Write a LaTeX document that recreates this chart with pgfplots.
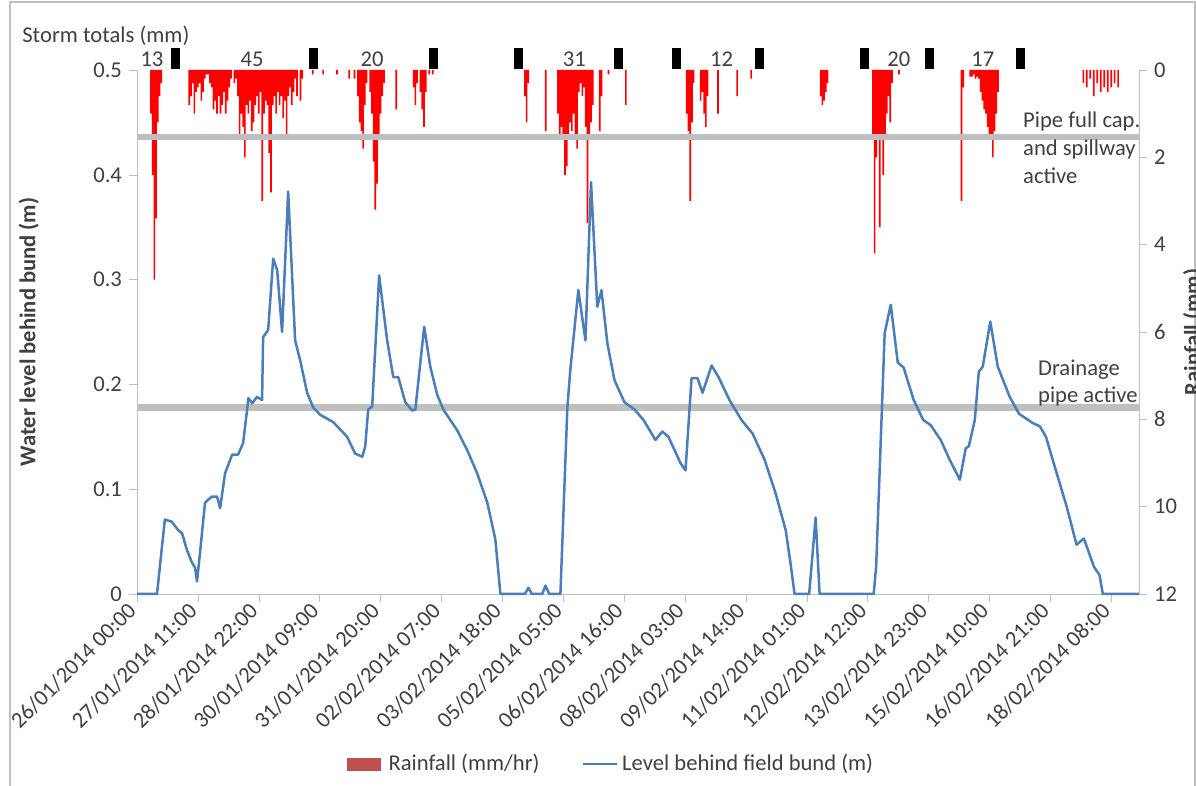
\documentclass[border=0pt]{standalone}
\usepackage{pgfplots}
\pgfplotsset{compat=1.18}
\usepackage{fontspec}
\setmainfont{Carlito}
\definecolor{txt}{HTML}{404040}
\definecolor{axgray}{HTML}{BFBFBF}
\definecolor{lvl}{HTML}{4A7EBB}
\definecolor{rainleg}{HTML}{C0504D}
\definecolor{thr}{HTML}{BFBFBF}
\newcommand\fsz{\fontsize{11.3}{13.6}\selectfont}

\pgfplotstableread{
h r
8 1.0
9 2.4
10 4.8
11 3.4
12 1.2
13 0.6
14 0.3
30 0.8
31 0.6
32 0.3
33 1.0
34 0.5
35 0.4
36 0.3
37 0.7
38 0.5
39 0.2
40 0.1
41 0.1
42 0.3
43 0.4
44 0.9
45 0.7
46 1.0
47 0.6
48 1.0
49 0.8
50 0.5
51 1.0
52 0.7
53 0.4
54 0.2
56 0.3
57 0.2
58 0.6
59 1.5
60 1.0
61 1.3
62 2.0
63 0.8
64 1.0
65 0.7
66 1.4
67 1.2
68 0.8
69 0.6
70 1.0
71 0.5
72 3.0
73 1.0
74 0.7
75 0.8
76 1.9
77 2.8
78 0.8
79 0.6
80 1.0
81 0.5
82 0.8
83 0.6
84 1.1
85 0.7
86 1.5
87 0.6
88 0.4
89 0.8
90 0.5
91 0.2
92 0.6
94 0.7
95 0.2
101 0.1
107 0.1
115 0.1
122 0.2
125 0.2
127 0.6
128 1.2
129 1.4
130 1.8
131 0.8
132 0.3
134 0.5
135 1.0
136 2.1
137 3.2
138 2.6
139 1.5
140 1.0
141 0.6
142 0.3
149 0.9
159 0.4
160 0.8
161 0.3
163 0.5
164 0.9
165 1.3
166 0.5
168 0.1
170 0.1
223 0.6
224 1.2
225 0.3
235 1.4
242 1.0
243 1.5
244 1.3
245 1.5
246 2.4
247 2.2
248 1.5
249 1.2
250 1.4
251 1.0
252 1.5
253 1.8
254 0.5
255 0.3
256 0.6
257 0.4
258 1.3
259 3.5
260 1.5
261 1.2
262 0.8
266 1.4
267 0.6
271 0.1
281 0.8
316 1.0
317 1.4
318 3.0
319 1.2
320 0.3
324 0.7
325 0.5
326 1.0
327 1.3
328 0.6
334 1.0
345 0.6
353 0.2
393 0.6
394 0.8
395 0.7
396 0.5
397 0.3
423 1.5
424 4.2
425 2.0
426 1.5
427 3.6
428 1.5
429 2.4
430 1.5
431 1.0
432 0.6
433 1.2
434 0.3
438 0.1
474 3.0
475 0.4
479 0.15
480 0.15
481 0.1
482 0.2
483 0.15
484 0.2
485 0.5
486 0.7
487 0.9
488 1.0
489 1.3
490 1.5
491 1.6
492 2.0
493 1.4
494 1.0
495 0.5
544 0.3
546 0.4
548 0.2
550 0.6
552 0.3
554 0.5
556 0.4
558 0.5
560 0.4
562 0.3
564 0.4
}\rain

\pgfplotstableread{
h v
0 0
11.5 0
16 0.071
20 0.069
23.6 0.061
25.9 0.058
28.7 0.042
31.6 0.030
33.4 0.025
34.5 0.012
36.2 0.039
39.1 0.087
40.9 0.090
43.2 0.093
46 0.093
47.8 0.082
50.6 0.115
54.7 0.133
58.1 0.133
61 0.144
63.3 0.176
64 0.187
66.2 0.182
69 0.188
71.9 0.185
72.5 0.245
75.4 0.252
78.3 0.320
80.6 0.309
83.4 0.250
86.9 0.384
90.9 0.242
93.8 0.223
97.8 0.192
101.3 0.178
105.3 0.171
112.8 0.164
120.8 0.150
125.4 0.134
129.5 0.131
131.2 0.141
132.9 0.176
135.2 0.179
139.2 0.304
143.8 0.242
147.3 0.207
150.2 0.207
154.2 0.183
158.2 0.175
160 0.176
165.1 0.255
168.6 0.217
172.6 0.190
176.1 0.176
184.1 0.156
189.9 0.137
195.6 0.115
201.4 0.087
206 0.052
208.9 0
223 0
225 0.006
227 0
233 0
234.8 0.008
237 0
243.4 0
247.4 0.178
249.1 0.214
253.7 0.290
257.8 0.242
261 0.393
264.6 0.274
267 0.290
270.4 0.239
274.5 0.204
280.2 0.183
286 0.176
291.2 0.166
298 0.147
302 0.155
305.5 0.150
312.4 0.125
315.3 0.118
318.8 0.206
322.2 0.206
325.1 0.192
330.3 0.218
334.3 0.207
340.6 0.185
347.5 0.166
353.9 0.153
360.8 0.128
367.1 0.096
372.9 0.061
375.7 0.029
378 0
386.4 0
390.1 0.073
392.4 0
423.5 0
424.9 0.026
429.8 0.249
433.3 0.276
437.3 0.221
440.7 0.216
446.5 0.185
452 0.166
456.3 0.161
462 0.147
467.2 0.128
473 0.109
476.4 0.139
478.2 0.141
481.6 0.166
483.9 0.212
486.2 0.217
490.5 0.260
494.8 0.217
501.7 0.188
507 0.172
515 0.163
519 0.160
522.5 0.150
528.2 0.118
534.5 0.083
540.1 0.047
544.3 0.053
550.1 0.026
553.3 0.018
555.2 0
576 0
}\level

\begin{document}
\begin{tikzpicture}[font=\fsz, text=txt]
\path[use as bounding box] (-68.5pt,-96pt) rectangle (529.5pt,297pt);
\draw[axgray, line width=0.7pt] (-63.5pt,-110pt) rectangle (529pt,296pt);

% rainfall axis (right, reversed)
\begin{axis}[
  scale only axis, width=501pt, height=262pt,
  xmin=0, xmax=576, ymin=0, ymax=12, y dir=reverse,
  axis x line=none, axis y line*=right,
  axis line style={axgray}, tick style={axgray},
  tick align=outside, major tick length=4pt,
  ytick={0,2,4,6,8,10,12},
  /pgf/number format/assume math mode=true,
  tick label style={font=\fsz, text=txt},
  ylabel={\bfseries Rainfall (mm)},
  ylabel style={at={(axis description cs:1.054,0.5)}, anchor=center, rotate=0, font=\fsz, text=txt},
  clip=false,
]
\addplot[ybar, bar width=0.95, fill=red, draw=none] table[x=h, y=r] {\rain};
\end{axis}

% water level axis (left)
\begin{axis}[
  scale only axis, width=501pt, height=262pt,
  xmin=0, xmax=576, ymin=0, ymax=0.5,
  axis x line*=bottom, axis y line*=left,
  axis line style={axgray}, tick style={axgray},
  tick align=outside, major tick length=4pt,
  xtick={0,35,70,105,140,175,210,245,280,315,350,385,420,455,490,525,560},
  xticklabels={26/01/2014 00:00,27/01/2014 11:00,28/01/2014 22:00,30/01/2014 09:00,31/01/2014 20:00,02/02/2014 07:00,03/02/2014 18:00,05/02/2014 05:00,06/02/2014 16:00,08/02/2014 03:00,09/02/2014 14:00,11/02/2014 01:00,12/02/2014 12:00,13/02/2014 23:00,15/02/2014 10:00,16/02/2014 21:00,18/02/2014 08:00},
  xticklabel style={rotate=45, anchor=east},
  ytick={0,0.1,0.2,0.3,0.4,0.5},
  /pgf/number format/assume math mode=true,
  tick label style={font=\fsz, text=txt},
  ylabel={\bfseries Water level behind bund (m)},
  ylabel style={at={(axis description cs:-0.108,0.5)}, anchor=center, font=\fsz, text=txt},
  clip=false,
  legend style={at={(axis description cs:0.474,-0.3244)}, anchor=center,
    draw=none, fill=none, font=\fsz, text=txt, legend columns=2,
    /tikz/every even column/.append style={column sep=19pt},
    /tikz/every odd column/.append style={column sep=0pt}},
  legend cell align=left,
]
\addlegendimage{legend image code/.code={\fill[rainleg] (0pt,-3pt) rectangle (16.5pt,3pt);}}
\addlegendentry{\hspace{2pt}Rainfall (mm/hr)}
\addplot[thr, line width=3.3pt, forget plot] coordinates {(0,0.436) (576,0.436)};
\addplot[thr, line width=3.3pt, forget plot] coordinates {(0,0.178) (576,0.178)};
\addplot[lvl, line width=1.25pt, line join=round] table[x=h, y=v] {\level};
\addlegendentry{Level behind field bund (m)}
% storm separators
\addplot[only marks, mark=|, mark size=5.25pt, mark options={black, line width=4.5pt}, forget plot]
  coordinates {(22.4,0.511) (101.3,0.511) (170.3,0.511) (219.2,0.511) (276.8,0.511) (310.1,0.511) (357.9,0.511) (418.3,0.511) (455.7,0.511) (508.1,0.511)};
\node[anchor=base, inner sep=0pt] at (axis cs:8.6,0.5029) {13};
\node[anchor=base, inner sep=0pt] at (axis cs:66.2,0.5029) {45};
\node[anchor=base, inner sep=0pt] at (axis cs:135.2,0.5029) {20};
\node[anchor=base, inner sep=0pt] at (axis cs:251.4,0.5029) {31};
\node[anchor=base, inner sep=0pt] at (axis cs:336.0,0.5029) {12};
\node[anchor=base, inner sep=0pt] at (axis cs:437.9,0.5029) {20};
\node[anchor=base, inner sep=0pt] at (axis cs:486.2,0.5029) {17};
\node[anchor=base west, inner sep=0pt] at (axis description cs:-0.1148,1.0534) {Storm totals (mm)};
\node[anchor=north west, inner sep=0pt, align=left, font=\fontsize{11.3}{14}\selectfont] at (axis cs:509.2,0.4609) {Pipe full cap.\\and spillway\\active};
\node[anchor=north west, inner sep=0pt, align=left, font=\fontsize{11.3}{13.5}\selectfont] at (axis cs:517.8,0.2233) {Drainage\\pipe active};
\end{axis}
\end{tikzpicture}
\end{document}
